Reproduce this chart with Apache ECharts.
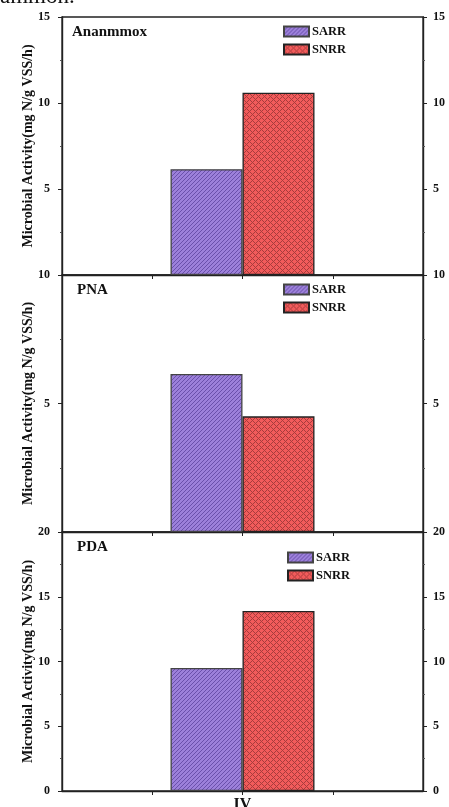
<!DOCTYPE html>
<html>
<head>
<meta charset="utf-8">
<title>Microbial Activity</title>
<script src="https://cdn.jsdelivr.net/npm/echarts@6/dist/echarts.min.js"></script>
<style>
    html, body { margin: 0; padding: 0; background: #fff; }
    #chart { width: 449px; height: 807px; }
</style>
</head>
<body>
<div id="chart"></div>
<script>

// Chart data
// ------------------------------

var categories = ['', '', 'IV', '', ''];
var panelNames = ['Ananmmox', 'PNA', 'PDA'];
var sarrValues = [6.15, 6.15, 9.5];
var snrrValues = [10.6, 4.5, 13.9];
var yMaxValues = [15, 10, 20];


// Hatch patterns
// ------------------------------

var makePattern = function(size, bg, fg, test) {
    var c = document.createElement('canvas');
    c.width = size;
    c.height = size;
    var ctx = c.getContext('2d');
    ctx.fillStyle = bg;
    ctx.fillRect(0, 0, size, size);
    ctx.fillStyle = fg;
    for (var x = 0; x < size; x++) {
        for (var y = 0; y < size; y++) {
            if (test(x, y)) ctx.fillRect(x, y, 1, 1);
        }
    }
    return { image: c, repeat: 'repeat' };
};

// "/" diagonal lines
var sarrFill = makePattern(4, '#9c80da', '#6a50ab', function(x, y) {
    return (x + y) % 4 === 3;
});

// cross hatch
var snrrFill = makePattern(6, '#f25b5b', '#a83c3c', function(x, y) {
    return (x + y) % 6 === 0 || (x - y + 6) % 6 === 0;
});


// Layout per panel (top, height)
var panelTops = [17, 275, 532];
var panelHeights = [258, 257, 259];

var serif = '"Liberation Serif", "DejaVu Serif", serif';
var axisColor = '#222';

var grids = [], xAxes = [], yAxes = [], series = [], legends = [], titles = [];

panelNames.forEach(function(name, i) {
    var last = i === panelNames.length - 1;

    grids.push({
        left: 62,
        right: 26,
        top: panelTops[i],
        height: panelHeights[i],
        outerBoundsMode: 'none',
        show: true,
        borderColor: axisColor,
        borderWidth: 1.3
    });

    xAxes.push({
        type: 'category',
        gridIndex: i,
        data: categories,
        boundaryGap: false,
        axisLine: { lineStyle: { color: axisColor, width: 1.4 } },
        axisTick: {
            length: 4,
            interval: function(idx) { return idx > 0 && idx < categories.length - 1; },
            lineStyle: { color: axisColor }
        },
        axisLabel: {
            show: last,
            margin: 6,
            color: '#111',
            fontFamily: serif,
            fontWeight: 'bold',
            fontSize: 16
        },
        splitLine: { show: false }
    });

    ['left', 'right'].forEach(function(pos) {
        yAxes.push({
            type: 'value',
            gridIndex: i,
            position: pos,
            min: 0,
            max: yMaxValues[i],
            interval: 5,
            name: pos === 'left' ? 'Microbial Activity(mg N/g VSS/h)' : '',
            nameLocation: 'middle',
            nameGap: 27,
            nameMoveOverlap: false,
            nameTextStyle: {
                fontFamily: serif,
                fontWeight: 'bold',
                fontSize: 14,
                color: '#111'
            },
            axisLine: { show: true, lineStyle: { color: axisColor, width: 1.4 } },
            axisTick: { show: true, length: 4, lineStyle: { color: axisColor } },
            minorTick: { show: true, splitNumber: 2, length: 2, lineStyle: { color: '#555' } },
            axisLabel: {
                showMinLabel: last,
                margin: pos === 'left' ? 12 : 10,
                color: '#111',
                fontFamily: serif,
                fontWeight: 'bold',
                fontSize: 12
            },
            splitLine: { show: false }
        });
    });

    var pick = function(v) {
        return categories.map(function(c) { return c === 'IV' ? v : null; });
    };

    series.push({
        name: 'SARR',
        type: 'bar',
        xAxisIndex: i,
        yAxisIndex: i * 2,
        data: pick(sarrValues[i]),
        barWidth: 72,
        barGap: '0%',
        itemStyle: { color: sarrFill, borderColor: '#444', borderWidth: 1.3 }
    });
    series.push({
        name: 'SNRR',
        type: 'bar',
        xAxisIndex: i,
        yAxisIndex: i * 2,
        data: pick(snrrValues[i]),
        barWidth: 72,
        barGap: '0%',
        itemStyle: { color: snrrFill, borderColor: '#222', borderWidth: 1.3 }
    });

    legends.push({
        data: ['SARR', 'SNRR'],
        orient: 'vertical',
        left: last ? 287 : 283,
        top: last ? 551 : panelTops[i] + 8,
        itemWidth: 25,
        itemHeight: 10,
        itemGap: 5,
        padding: 0,
        selectedMode: false,
        icon: 'rect',
        textStyle: {
            fontFamily: serif,
            fontWeight: 'bold',
            fontSize: 12.5,
            color: '#111',
            padding: [0, 0, 0, -2]
        }
    });

    titles.push({
        type: 'text',
        left: i === 0 ? 72 : 77,
        top: panelTops[i] + 8,
        style: {
            text: name,
            font: 'bold 15px ' + serif,
            fill: '#111'
        }
    });
});

// clipped caption fragment above the chart
titles.push({
    type: 'text',
    left: 0,
    top: -15,
    style: {
        text: 'ammon.',
        font: '23px ' + serif,
        fill: '#111'
    }
});

var chart = echarts.init(document.getElementById('chart'));
chart.setOption({
    animation: false,
    grid: grids,
    xAxis: xAxes,
    yAxis: yAxes,
    legend: legends,
    graphic: titles,
    series: series
});

</script>
</body>
</html>
